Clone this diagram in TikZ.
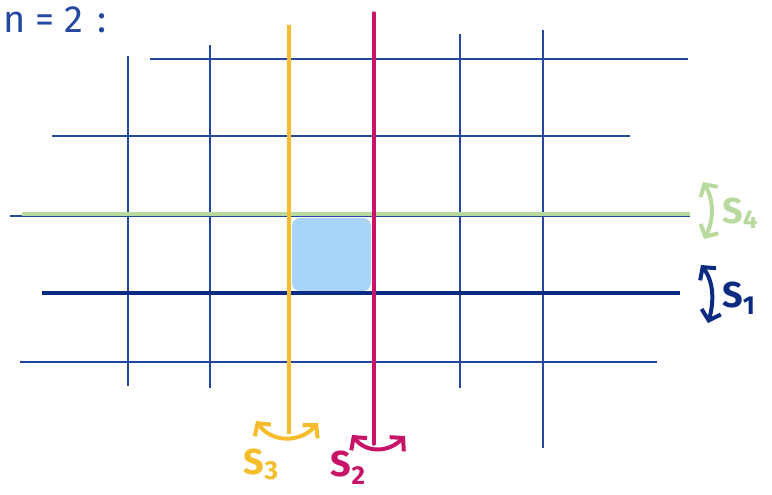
\documentclass[tikz,border=0pt]{standalone}
\usepackage{fontspec}
\setmainfont{Fira Sans}
\usetikzlibrary{arrows.meta}
\definecolor{gridblue}{HTML}{2448A0}
\definecolor{navy}{HTML}{0B2A82}
\definecolor{lgreen}{HTML}{B8DA9E}
\definecolor{ylw}{HTML}{F5BD2C}
\definecolor{mag}{HTML}{C81468}
\definecolor{cell}{HTML}{A8D4FA}
\tikzset{
  gridline/.style={draw=gridblue, line width=2pt},
  dbl/.style={line width=4pt, line cap=round, {Straight Barb[length=9pt,width=20pt,line width=4pt]}-{Straight Barb[length=9pt,width=20pt,line width=4pt]}},
  lbl/.style={font=\bfseries\fontsize{36}{36}\selectfont, inner sep=0pt},
}
\newcommand{\subl}[2]{S\raisebox{#1}{\fontsize{26}{26}\selectfont #2}}
\begin{document}
\begin{tikzpicture}[x=1pt,y=-1pt]
\useasboundingbox (0,0) rectangle (772,495);
% cell
\fill[cell, rounded corners=8pt] (292,218) rectangle (371,291);
% vertical grid lines
\draw[gridline] (128,56) -- (128,386);
\draw[gridline] (210,45) -- (210,388);
\draw[gridline] (288,35) -- (288,380);
\draw[gridline] (460,34) -- (460,388);
\draw[gridline] (543,30) -- (543,448);
% horizontal grid lines
\draw[gridline] (150,59) -- (688,59);
\draw[gridline] (52,136) -- (630,136);
\draw[gridline] (10,216) -- (690,216);
\draw[gridline] (20,362) -- (657,362);
% special lines
\draw[lgreen, line width=4.5pt] (22,214) -- (690,214);
\draw[navy, line width=4pt] (42,293) -- (680,293);
\draw[ylw, line width=3.5pt] (289,25) -- (289,434);
\draw[mag, line width=3.5pt, line cap=round] (374,13) -- (374,444);
% title
\node[inner sep=0pt, anchor=west, text=gridblue, font=\fontsize{38}{38}\selectfont] (title) at (3,20) {n\hspace{10pt}=\hspace{10pt}2\hspace{14pt}:};
% arrows
\coordinate (s4a) at (703,182);
\coordinate (s4b) at (704,239);
\draw[lgreen, dbl] (s4a) .. controls (714,200) and (714,220) .. (s4b);
\node[lbl, text=lgreen, anchor=west] (s4) at (722,213) {\subl{-5pt}{4}};
\coordinate (s1a) at (701,265);
\coordinate (s1b) at (708,323);
\draw[navy, dbl] (s1a) .. controls (714,282) and (714,302) .. (s1b);
\node[lbl, text=navy, anchor=west] (s1) at (722,298) {\subl{-7pt}{1}};
\coordinate (s3a) at (256,421);
\coordinate (s3b) at (318,423);
\draw[ylw, dbl] (s3a) .. controls (272,443) and (300,443) .. (s3b);
\node[lbl, text=ylw] (s3) at (261,464) {\subl{-5pt}{3}};
\coordinate (s2a) at (352,435);
\coordinate (s2b) at (405,436);
\draw[mag, dbl] (s2a) .. controls (366,453) and (388,453) .. (s2b);
\node[lbl, text=mag] (s2) at (348,468) {\subl{-8pt}{2}};
\end{tikzpicture}
\end{document}
